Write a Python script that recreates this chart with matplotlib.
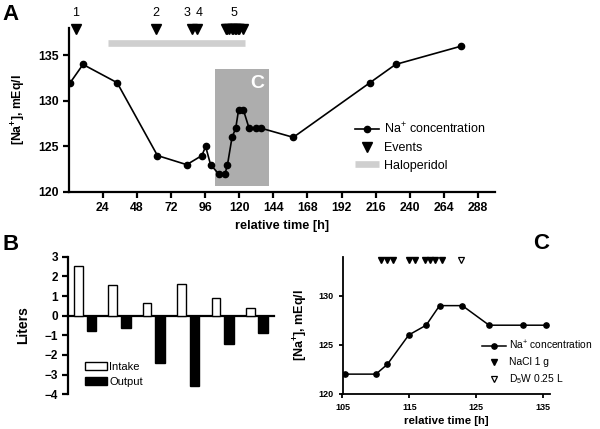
import matplotlib
matplotlib.use("Agg")
import matplotlib.pyplot as plt
from matplotlib.patches import Patch
from matplotlib.lines import Line2D

plt.rcParams['font.family'] = ['Liberation Sans', 'DejaVu Sans']
plt.rcParams['mathtext.default'] = 'regular'

# ---------------- data ----------------
# Panel A: Na+ concentration over the full course
a_time = [1, 10, 34, 62.4, 83, 93.7, 96.3, 99.8, 105.4, 110.0, 111.7, 114.9, 117.5, 119.5,
          122.9, 126.9, 132.0, 135.4, 158, 212, 230, 276]
a_na = [132, 134, 132, 124, 123, 124, 125, 123, 122, 122, 123, 126, 127, 129,
        129, 127, 127, 127, 126, 132, 134, 136]
a_event_times = [5.1, 61.5, 87, 90.5, 110.8, 111.6, 112.5, 115.0, 115.9, 117.3, 118.0,
                 118.8, 119.8, 122.7]
a_event_labels = ['1', '2', '3', '4', '5']
a_event_label_times = [5.1, 61.5, 83.4, 91.7, 116.4]
halo_start, halo_end, halo_level = 27.5, 124.2, 136.3
c_region = (102.9, 141.0, 120.7, 133.5)  # t0, t1, y0, y1
a_xticks = [24, 48, 72, 96, 120, 144, 168, 192, 216, 240, 264, 288]
a_yticks = [120, 125, 130, 135]

# Panel B: fluid balance per period
b_intake = [2.53, 1.54, 0.66, 1.59, 0.92, 0.37]
b_output = [-0.78, -0.61, -2.42, -3.58, -1.42, -0.9]
b_yticks = [3, 2, 1, 0, -1, -2, -3, -4]

# Panel C: zoom 105-136 h
c_time = [105.4, 110.0, 111.7, 114.9, 117.5, 119.5, 122.9, 126.9, 132.0, 135.4]
c_na = [122, 122, 123, 126, 127, 129, 129, 127, 127, 127]
c_nacl_times = [110.8, 111.6, 112.5, 115.0, 115.9, 117.3, 118.0, 118.8, 119.8]
c_d5w_times = [122.7]
c_xticks = [105, 115, 125, 135]
c_yticks = [120, 125, 130]

W, H = 600, 429
fig = plt.figure(figsize=(6, 4.29), dpi=100)


def box(l, r, t, b):
    return [l / W, 1 - b / H, (r - l) / W, (b - t) / H]


def style(ax, lw=1.6):
    for s in ['top', 'right']:
        ax.spines[s].set_visible(False)
    for s in ['left', 'bottom']:
        ax.spines[s].set_linewidth(lw)
    ax.tick_params(width=lw, length=4, direction='out')

# ---------------- Panel A ----------------
axA = fig.add_axes(box(68.8, 495, 28, 192))
style(axA)
axA.fill_between([c_region[0], c_region[1]], c_region[2], c_region[3],
                 color='#adadad', lw=0, zorder=1)
axA.text(c_region[1] - 8, 131.9, 'C', color='white', fontsize=14, fontweight='bold',
         ha='center', va='center', zorder=2)
axA.plot([halo_start, halo_end], [halo_level, halo_level], color='#cfcfcf', lw=4.8,
         solid_capstyle='butt', zorder=2)
axA.plot(a_time, a_na, color='black', lw=1.2, marker='o', ms=4.5, zorder=3)
axA.plot(a_event_times, [137.9] * len(a_event_times), 'v', color='black', ms=6.5,
         clip_on=False, zorder=4)
for t, lab in zip(a_event_label_times, a_event_labels):
    axA.text(t, 139.7, lab, ha='center', va='center', fontsize=9, clip_on=False)
axA.set_xlim(0, 300)
axA.set_ylim(120, 138)
axA.set_xticks(a_xticks)
axA.set_yticks(a_yticks)
for lab in axA.get_xticklabels() + axA.get_yticklabels():
    lab.set_fontweight('bold')
    lab.set_fontsize(8.8)
axA.set_xlabel('relative time [h]', fontsize=9.2, fontweight='bold', labelpad=4)
axA.set_ylabel('[Na$^{+}$], mEq/l', fontsize=8.8, fontweight='bold', labelpad=7)
handlesA = [Line2D([], [], color='black', lw=1.2, marker='o', ms=4.5),
            Line2D([], [], color='black', lw=0, marker='v', ms=6.5),
            Line2D([], [], color='#cfcfcf', lw=4.8, solid_capstyle='butt')]
axA.legend(handlesA, ['Na$^{+}$ concentration', 'Events', 'Haloperidol'],
           loc='center left', bbox_to_anchor=(355 / W, 1 - 146.7 / H),
           bbox_transform=fig.transFigure, frameon=False, fontsize=9,
           handlelength=1.9, handletextpad=0.4, labelspacing=0.45,
           borderpad=0, borderaxespad=0)

# ---------------- Panel B ----------------
axB = fig.add_axes(box(68.3, 274.3, 256.7, 394.3))
style(axB)
xs = list(range(len(b_intake)))
axB.bar([x - 0.19 for x in xs], b_intake, width=0.25, color='white', edgecolor='black',
        lw=1.0, zorder=3)
axB.bar([x + 0.19 for x in xs], b_output, width=0.28, color='black', edgecolor='black',
        lw=1.0, zorder=3)
axB.spines['bottom'].set_position(('data', 0))
axB.set_xticks([])
axB.set_xlim(-0.48, 5.51)
axB.set_ylim(-4, 3)
axB.set_yticks(b_yticks)
for lab in axB.get_yticklabels():
    lab.set_fontweight('bold')
    lab.set_fontsize(8.5)
axB.set_ylabel('Liters', fontsize=10, fontweight='bold', labelpad=10)
handlesB = [Patch(facecolor='white', edgecolor='black', lw=1.0),
            Patch(facecolor='black', edgecolor='black', lw=1.0)]
axB.legend(handlesB, ['Intake', 'Output'], loc='center left',
           bbox_to_anchor=(85 / W, 1 - 374.2 / H), bbox_transform=fig.transFigure,
           frameon=False, fontsize=8, handlelength=2.0, handletextpad=0.2,
           labelspacing=0.45, borderpad=0, borderaxespad=0)

# ---------------- Panel C ----------------
axC = fig.add_axes(box(342.5, 550, 256.7, 393.7))
style(axC, lw=1.3)
axC.tick_params(length=3)
axC.plot(c_time, c_na, color='black', lw=1.1, marker='o', ms=3.8, zorder=3)
axC.plot(c_nacl_times, [133.7] * len(c_nacl_times), 'v', color='black', ms=4.2,
         clip_on=False)
axC.plot(c_d5w_times, [133.7] * len(c_d5w_times), 'v', markerfacecolor='white',
         markeredgecolor='black', mew=0.9, ms=4.2, clip_on=False)
axC.set_xlim(105, 136)
axC.set_ylim(120, 134)
axC.set_xticks(c_xticks)
axC.set_yticks(c_yticks)
for lab in axC.get_xticklabels() + axC.get_yticklabels():
    lab.set_fontweight('bold')
    lab.set_fontsize(6.5)
axC.set_xlabel('relative time [h]', fontsize=8.2, fontweight='bold', labelpad=3)
axC.set_ylabel('[Na$^{+}$], mEq/l', fontsize=9, fontweight='bold', labelpad=6)
handlesC = [Line2D([], [], color='black', lw=1.1, marker='o', ms=3.8),
            Line2D([], [], color='black', lw=0, marker='v', ms=5),
            Line2D([], [], lw=0, marker='v', ms=5, markerfacecolor='white',
                   markeredgecolor='black', mew=0.9)]
axC.legend(handlesC, ['Na$^{+}$ concentration', 'NaCl 1 g', 'D$_{5}$W 0.25 L'],
           loc='center left', bbox_to_anchor=(481.7 / W, 1 - 362.7 / H),
           bbox_transform=fig.transFigure, frameon=False, fontsize=7.4,
           handlelength=2.4, handletextpad=0.3, labelspacing=0.5,
           borderpad=0, borderaxespad=0)

# ---------------- panel letters ----------------
fig.text(2 / W, 1 - 4 / H, 'A', fontsize=16, fontweight='bold', va='top', ha='left')
fig.text(3 / W, 1 - 234 / H, 'B', fontsize=16, fontweight='bold', va='top', ha='left')
fig.text(533 / W, 1 - 233 / H, 'C', fontsize=16, fontweight='bold', va='top', ha='left')

fig.savefig('out.png', dpi=100)
